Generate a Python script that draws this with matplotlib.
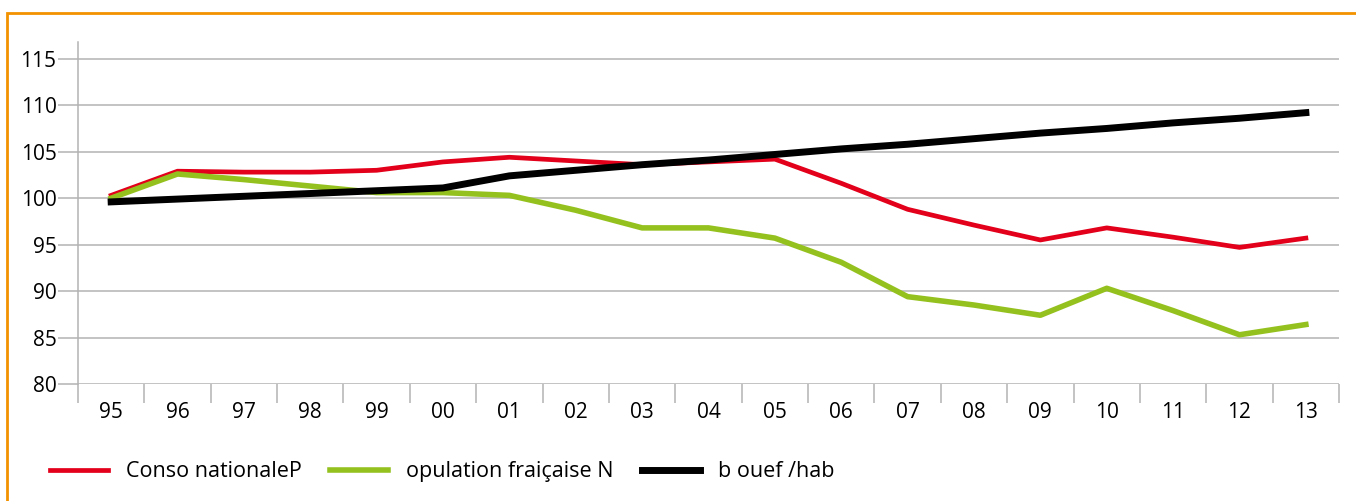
import matplotlib
matplotlib.use('Agg')
import matplotlib.pyplot as plt
from matplotlib.patches import Rectangle

plt.rcParams['font.family'] = ['Open Sans', 'DejaVu Sans']

# data (index 1995 = 100)
years = ['95', '96', '97', '98', '99', '00', '01', '02', '03', '04',
         '05', '06', '07', '08', '09', '10', '11', '12', '13']
conso_nationale = [100.3, 102.9, 102.8, 102.8, 103.0, 103.9, 104.4, 104.0, 103.6, 103.9,
                   104.2, 101.6, 98.8, 97.1, 95.5, 96.8, 95.8, 94.7, 95.7]
population = [100.0, 102.6, 102.0, 101.3, 100.6, 100.6, 100.3, 98.7, 96.8, 96.8,
              95.7, 93.1, 89.4, 88.5, 87.4, 90.3, 87.9, 85.3, 86.4]
boeuf_hab = [99.6, 99.9, 100.2, 100.5, 100.8, 101.1, 102.4, 103.0, 103.6, 104.1,
             104.7, 105.3, 105.8, 106.4, 107.0, 107.5, 108.1, 108.6, 109.2]
labels = ['Conso nationaleP', 'opulation fraiçaise N', 'b ouef /hab']
yticks = [80, 85, 90, 95, 100, 105, 110, 115]

grid_col = '#b3b3b3'
fig = plt.figure(figsize=(13.56, 5.01), dpi=100)
ax = fig.add_axes([0.0575, 0.2335, 0.93, 0.6826])

x = list(range(len(years)))
ax.plot(x, conso_nationale, color='#e2001a', lw=3.4, label=labels[0], solid_joinstyle='round')
ax.plot(x, population, color='#95c11f', lw=4.0, label=labels[1], solid_joinstyle='round')
ax.plot(x, boeuf_hab, color='#000000', lw=5.0, label=labels[2], solid_joinstyle='miter')

ax.set_xlim(-0.5, len(years) - 0.5)
ax.set_ylim(80, 116.8)
ax.set_yticks(yticks)
ax.set_yticklabels([str(v) for v in yticks])
ax.set_xticks(x)
ax.set_xticklabels(years)
ax.set_xticks([i - 0.5 for i in range(len(years) + 1)], minor=True)
ax.tick_params(axis='x', which='major', length=0, pad=13, labelsize=15)
ax.tick_params(axis='x', which='minor', length=14, width=1.1, color=grid_col)
ax.tick_params(axis='y', length=14.5, width=1.1, color=grid_col, pad=1, labelsize=15)
ax.grid(axis='y', color=grid_col, lw=1.1)
ax.set_axisbelow(True)
for s in ['top', 'right', 'bottom']:
    ax.spines[s].set_visible(False)
ax.spines['left'].set_color(grid_col)
ax.spines['left'].set_linewidth(1.1)

fig.legend(loc='center left', bbox_to_anchor=(0.0225, 0.058), ncol=3, frameon=False,
           fontsize=15.5, handlelength=2.7, handletextpad=0.85, columnspacing=1.3)

# orange frame
fig.add_artist(Rectangle((0.0052, -0.1), 1.2, 1.074, transform=fig.transFigure,
                         fill=False, edgecolor='#f39200', lw=2.0))

fig.savefig('out.png', dpi=100)
